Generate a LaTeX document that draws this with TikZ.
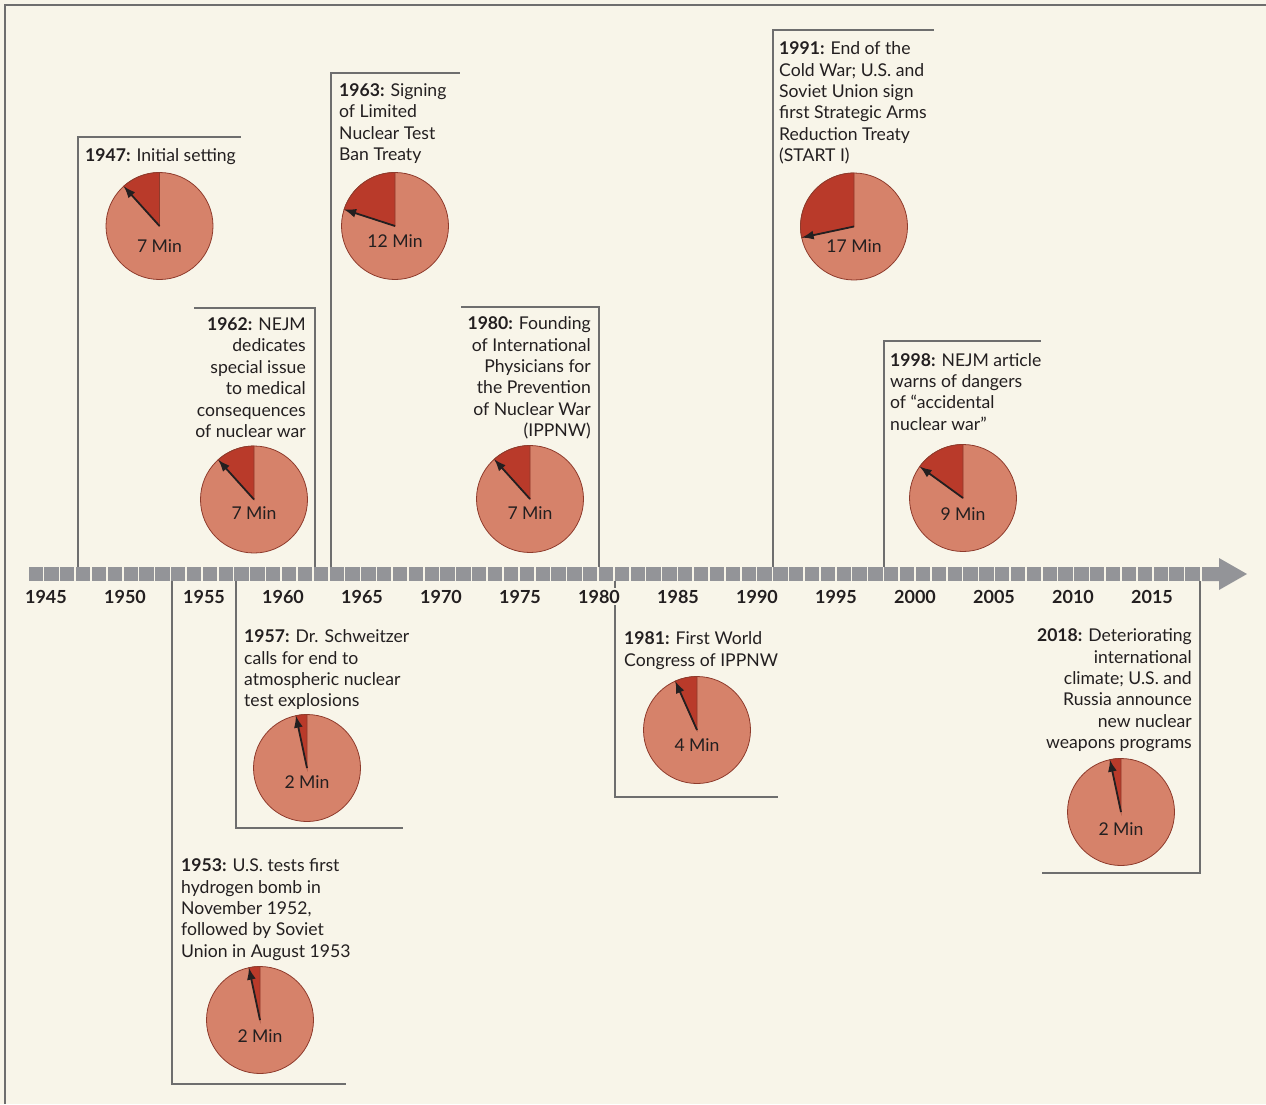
\documentclass[tikz,border=0pt]{standalone}
\usepackage{fontspec}
\setmainfont{Lato}
\usetikzlibrary{arrows.meta,calc}
\definecolor{bg}{HTML}{F8F5E9}
\definecolor{txt}{HTML}{231F20}
\definecolor{barc}{HTML}{939498}
\definecolor{linec}{HTML}{6E6E6E}
\definecolor{pielight}{HTML}{D6826A}
\definecolor{piedark}{HTML}{B93A2A}
\definecolor{pieedge}{HTML}{8E3B2C}
\tikzset{
  pie/.style={circle, minimum size=107pt, inner sep=0pt, outer sep=0pt, fill=pielight, draw=pieedge, line width=0.8pt},
  hand/.style={draw=txt, line width=1.8pt, -{Latex[length=12pt,width=9pt]}},
  minlbl/.style={inner sep=0pt, text=txt},
  evl/.style={inner sep=0pt, align=left, anchor=north west, text=txt},
  evr/.style={inner sep=0pt, align=right, anchor=north east, text=txt},
  bracket/.style={draw=linec, line width=1.3pt},
  yearlbl/.style={font=\fontsize{18}{21.4}\selectfont\bfseries, text=txt, fill=bg, inner sep=1.5pt},
}
\newcommand\clockpie[5]{%
  \node[pie] (#1) at (#2,-#3) {};
  \pgfmathtruncatemacro\hangle{90+6*#4}%
  \fill[piedark, draw=pieedge, line width=0.8pt] (#1.center) -- ++(0,53.5) arc[start angle=90, delta angle=6*#4, radius=53.5] -- cycle;
  \draw[hand] (#1.center) -- (#1.\hangle);
  \node[minlbl] (#1t) at ($(#1.center)+(0,-#5)$) {#4 Min};
}
\begin{document}
\begin{tikzpicture}[x=1pt,y=1pt, font=\fontsize{17.6}{21.4}\selectfont]
\fill[bg] (0,0) rectangle (1266,-1104);
\useasboundingbox (0,0) rectangle (1266,-1104);
\draw[draw=linec, line width=2pt] (5.3,-1104) -- (5.3,-5.3) -- (1266,-5.3);

% bracket coordinates
\coordinate (b47) at (78,-567);   \coordinate (c47) at (78,-137);   \coordinate (e47) at (241,-137);
\coordinate (b62) at (315,-567);  \coordinate (c62) at (315,-308);  \coordinate (e62) at (194,-308);
\coordinate (b63) at (331,-567);  \coordinate (c63) at (331,-73);   \coordinate (e63) at (460,-73);
\coordinate (b80) at (599,-567);  \coordinate (c80) at (599,-307);  \coordinate (e80) at (461,-307);
\coordinate (b91) at (773,-567);  \coordinate (c91) at (773,-30);   \coordinate (e91) at (934,-30);
\coordinate (b98) at (884,-567);  \coordinate (c98) at (884,-341);  \coordinate (e98) at (1041,-341);
\coordinate (b53) at (172,-581);  \coordinate (c53) at (172,-1084); \coordinate (e53) at (346,-1084);
\coordinate (b57) at (236,-581);  \coordinate (c57) at (236,-828);  \coordinate (e57) at (403,-828);
\coordinate (b81) at (615,-581);  \coordinate (c81) at (615,-797);  \coordinate (e81) at (778,-797);
\coordinate (b18) at (1200,-581); \coordinate (c18) at (1200,-873); \coordinate (e18) at (1042,-873);
\foreach \n in {47,62,63,80,91,98,53,57,81,18}
  \draw[bracket] (b\n) -- (c\n) -- (e\n);

% timeline
\foreach \k in {0,...,73}
  \fill[barc] ({28.5+15.845*\k},-567) rectangle ++(14.3,-14);
\fill[barc] (1202,-567) -- (1219,-567) -- (1219,-558) -- (1247,-574) -- (1219,-590) -- (1219,-581) -- (1202,-581) -- cycle;
\foreach \yr in {1945,1950,...,2015}
  \node[yearlbl] (y\yr) at ({46+(\yr-1945)*15.8},-596.5) {\yr};

% event texts
\node[evl] (t47) at (85,-148.5) {\textbf{1947:} Initial setting};
\node[evr] (t62) at (306,-317.5) {\textbf{1962:} NEJM\\dedicates\\special issue\\to medical\\consequences\\of nuclear war};
\node[evl] (t63) at (339,-83.5) {\textbf{1963:} Signing\\of Limited\\Nuclear Test\\Ban Treaty};
\node[evr] (t80) at (591,-316.5) {\textbf{1980:} Founding\\of International\\Physicians for\\the Prevention\\of Nuclear War\\(IPPNW)};
\node[evl] (t91) at (779,-41.5) {\textbf{1991:} End of the\\Cold War; U.S. and\\Soviet Union sign\\first Strategic Arms\\Reduction Treaty\\(START I)};
\node[evl] (t98) at (890,-353) {\textbf{1998:} NEJM article\\warns of dangers\\of “accidental\\nuclear war”};
\node[evl] (t53) at (181,-858.5) {\textbf{1953:} U.S. tests first\\hydrogen bomb in\\November 1952,\\followed by Soviet\\Union in August 1953};
\node[evl] (t57) at (244,-629.5) {\textbf{1957:} Dr. Schweitzer\\calls for end to\\atmospheric nuclear\\test explosions};
\node[evl] (t81) at (624,-631.5) {\textbf{1981:} First World\\Congress of IPPNW};
\node[evr] (t18) at (1192,-628.5) {\textbf{2018:} Deteriorating\\international\\climate; U.S. and\\Russia announce\\new nuclear\\weapons programs};

% clocks
\clockpie{p47}{159.5}{226}{7}{20.5}
\clockpie{p62}{254}{499.5}{7}{14}
\clockpie{p63}{395}{226}{12}{15}
\clockpie{p80}{530}{499}{7}{14}
\clockpie{p91}{854}{226.5}{17}{20}
\clockpie{p98}{963}{498}{9}{16}
\clockpie{p53}{260}{1020}{2}{16}
\clockpie{p57}{307}{768}{2}{14}
\clockpie{p81}{697}{730}{4}{15}
\clockpie{p18}{1121}{812}{2}{17}
\end{tikzpicture}
\end{document}
